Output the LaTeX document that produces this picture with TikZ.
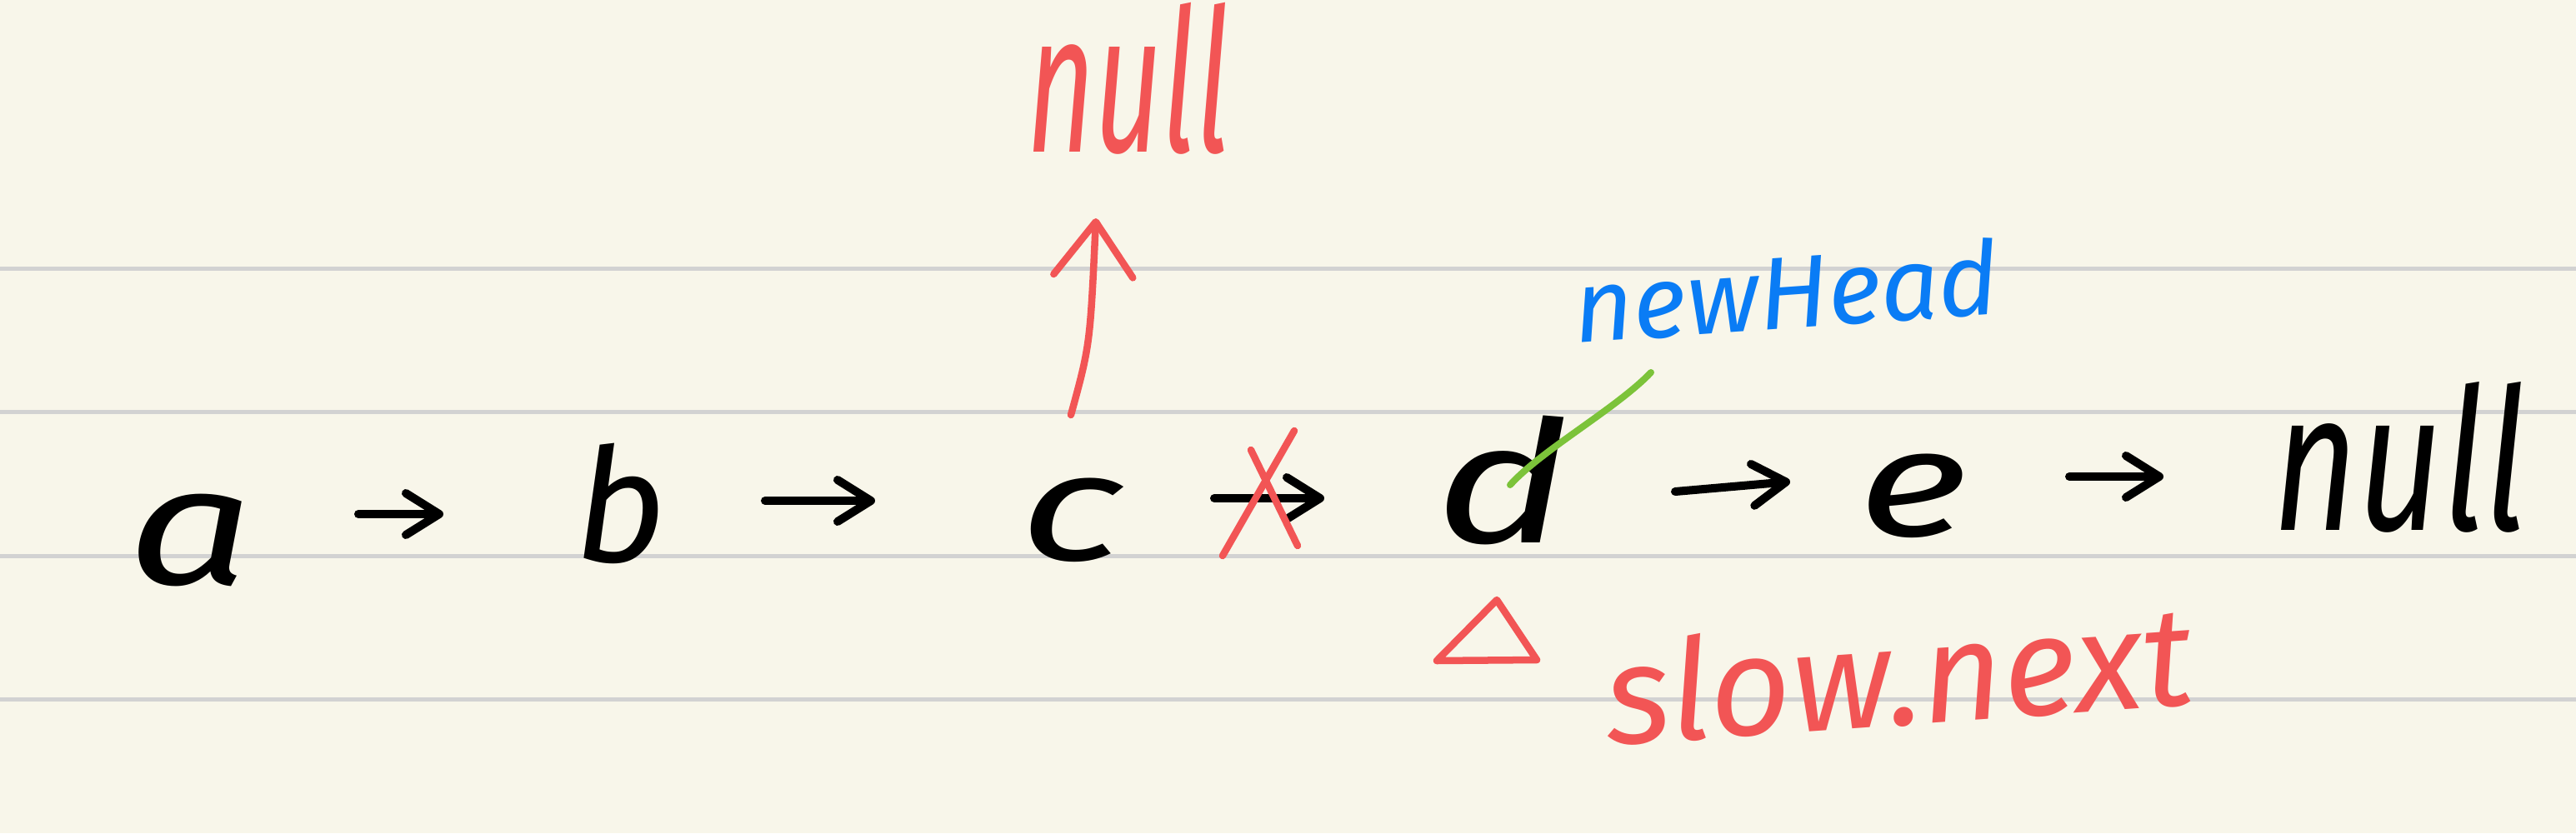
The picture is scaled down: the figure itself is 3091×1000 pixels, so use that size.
\documentclass[tikz,border=0pt]{standalone}
\usepackage{fontspec}
\setmainfont{Fira Sans}
\usetikzlibrary{arrows.meta,calc}
\definecolor{paper}{HTML}{F8F6EA}
\definecolor{ruleline}{HTML}{D2D2D2}
\definecolor{pred}{HTML}{F25555}
\definecolor{pblue}{HTML}{0A7CF5}
\definecolor{pgreen}{HTML}{7CC33A}
\begin{document}
\begin{tikzpicture}[x=0.01cm,y=-0.01cm,
  letter/.style={inner sep=0, text=black, font=\fontsize{52}{52}\selectfont\itshape},
  arr/.style={line width=1mm, black, line cap=round, -{Straight Barb[round,length=4mm,width=5mm]}},
  redarr/.style={line width=0.85mm, pred, line cap=round, -{Straight Barb[round,length=6.5mm,width=9.5mm]}},
  redpen/.style={line width=0.85mm, pred, line cap=round, line join=round},
  greenpen/.style={line width=0.8mm, pgreen, line cap=round},
  ruled/.style={line width=0.5mm, ruleline}]
\useasboundingbox (0,0) rectangle (3091,1000);
\fill[paper] (0,0) rectangle (3091,1000);
\foreach \yy in {322,494,667,839} \draw[ruled] (0,\yy) -- (3091,\yy);

% list nodes
\node[letter] (a) at (229,648) {\scalebox{1.45}[1.1]{a}};
\node[letter, font=\fontsize{54}{54}\selectfont\itshape] (b) at (744,604) {b};
\node[letter] (c) at (1286,624) {\scalebox{1.45}[1]{c}};
\node[letter, font=\fontsize{58}{58}\selectfont\itshape] (d) at (1803,576) {\scalebox{1.35}[1]{d}};
\node[letter] (e) at (2296,595) {\scalebox{1.4}[1]{e}};
\node[letter, font=\fontsize{50}{50}\selectfont\itshape] (nl) at (2880,549) {\scalebox{1}[1.35]{null}};

% labels
\node[inner sep=0, text=pred, font=\fontsize{40}{40}\selectfont\itshape] (rednull) at (1354,94) {\scalebox{1}[1.7]{null}};
\node[inner sep=0, text=pblue, rotate=4, font=\fontsize{35}{35}\selectfont\itshape] (newHead) at (2143,349) {newHead};
\node[inner sep=0, text=pred, rotate=4, font=\fontsize{48}{48}\selectfont\itshape] (slow) at (2278,808) {slow.next};

% arrows
\draw[arr] ($(a)+(201,-31)$) -- ($(b)+(-212,13)$);
\draw[arr] ($(b)+(174,-3)$) -- ($(c)+(-236,-23)$);
\draw[arr] ($(c)+(171,-26)$) -- ($(d)+(-214,22)$);
\draw[arr] ($(d)+(207,14)$) -- ($(e)+(-148,-17)$);
\draw[arr] ($(e)+(187,-23)$) -- ($(nl)+(-284,23)$);

% red cross over c -> d
\draw[redpen] (1501,540) -- (1557,655);
\draw[redpen] (1553,517) -- (1467,667);

% red arrow c -> null
\draw[redarr] ($(c)+(-1,-126)$) .. controls ($(c)+(22,-210)$) .. ($(rednull)+(-39,168)$);

% green pointer d -> newHead
\draw[greenpen] ($(d)+(9,6)$) .. controls ($(d)+(47,-36)$) and ($(d)+(137,-86)$) .. ($(newHead)+(-162,98)$);

% red triangle pointer to d
\draw[redpen] (1796,720) -- (1724,793) -- (1844,792) -- cycle;
\end{tikzpicture}
\end{document}
